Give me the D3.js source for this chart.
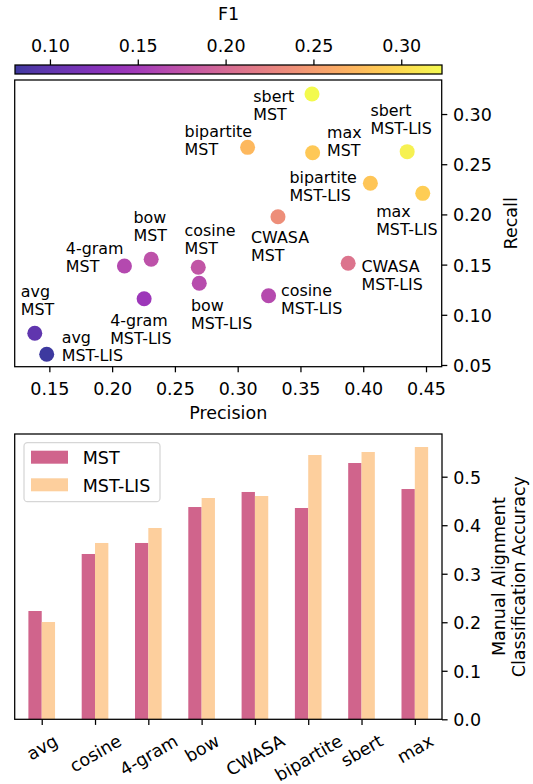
<!DOCTYPE html>
<html>
<head>
<meta charset="utf-8">
<script src="https://cdn.jsdelivr.net/npm/d3@7"></script>
<style>
  html, body { margin: 0; padding: 0; background: #fff; }
  svg { display: block; font-family: "DejaVu Sans", sans-serif; }
</style>
</head>
<body>
<svg id="chart" width="533" height="784"></svg>
<script>
// ---------------- data ----------------
const methods = ["avg", "cosine", "4-gram", "bow", "CWASA", "bipartite", "sbert", "max"];
const variants = ["MST", "MST-LIS"];

const precisionMST = [0.1384, 0.2686, 0.2098, 0.2311, 0.3321, 0.3079, 0.3592, 0.3597];
const recallMST    = [0.0816, 0.1473, 0.1486, 0.1553, 0.1977, 0.2668, 0.3199, 0.2615];
const f1MST        = [0.100, 0.178, 0.165, 0.175, 0.237, 0.274, 0.3232, 0.287];

const precisionLIS = [0.1479, 0.3246, 0.2255, 0.2694, 0.3880, 0.4057, 0.4350, 0.4474];
const recallLIS    = [0.0607, 0.1190, 0.1160, 0.1314, 0.1513, 0.2310, 0.2625, 0.2210];
const f1LIS        = [0.0801, 0.166, 0.145, 0.168, 0.210, 0.285, 0.316, 0.290];

const accuracyMST = [0.2232, 0.3407, 0.3634, 0.4375, 0.4685, 0.4355, 0.5282, 0.4746];
const accuracyLIS = [0.2005, 0.3634, 0.3943, 0.4561, 0.4602, 0.5447, 0.5509, 0.5612];

const precisionTicks = [0.15, 0.20, 0.25, 0.30, 0.35, 0.40, 0.45];
const recallTicks = [0.05, 0.10, 0.15, 0.20, 0.25, 0.30];
const f1Ticks = [0.10, 0.15, 0.20, 0.25, 0.30];
const accuracyTicks = [0.0, 0.1, 0.2, 0.3, 0.4, 0.5];

// label placement (layout, px offsets of first text line from point)
const labelOffsetMST = [[-14, -36.6], [-13.7, -31.6], [-58.6, -11.7], [-17.7, -36], [-27, 26.6], [-63, -10.6], [-58.7, 7.7], [14.4, -14.4]];
const labelOffsetLIS = [[15, -11], [12.4, 0], [-34, 27], [-8.3, 27.4], [13.3, 9], [-81, -0.6], [-36.7, -36], [-46.6, 23.4]];

// ---------------- setup ----------------
const svg = d3.select("#chart");
const FS = 17.5, FSA = 15.9, LW = 1.27, TL = 5.6, PAD = 5.6;
const barColors = ["#d0648c", "#fdcf9d"];

const points = [];
methods.forEach((m, i) => {
  points.push({m, v: "MST", p: precisionMST[i], r: recallMST[i], f: f1MST[i], off: labelOffsetMST[i]});
  points.push({m, v: "MST-LIS", p: precisionLIS[i], r: recallLIS[i], f: f1LIS[i], off: labelOffsetLIS[i]});
});
const f1Min = d3.min(points, d => d.f), f1Max = d3.max(points, d => d.f);
const color = d3.scaleSequential(d3.interpolatePlasma).domain([f1Min, f1Max]);

// ---------------- colorbar ----------------
const cb = {l: 15, r: 442, t: 65, b: 74};
const cbScale = d3.scaleLinear().domain([f1Min, f1Max]).range([cb.l, cb.r]);
const defs = svg.append("defs");
const grad = defs.append("linearGradient").attr("id", "cbgrad").attr("x1", "0%").attr("x2", "100%");
d3.range(0, 1.0001, 0.02).forEach(t => {
  grad.append("stop").attr("offset", (t * 100) + "%").attr("stop-color", d3.interpolatePlasma(t));
});
svg.append("rect").attr("x", cb.l).attr("y", cb.t).attr("width", cb.r - cb.l).attr("height", cb.b - cb.t)
  .attr("fill", "url(#cbgrad)").attr("fill-opacity", 0.8);
svg.append("rect").attr("x", cb.l).attr("y", cb.t).attr("width", cb.r - cb.l).attr("height", cb.b - cb.t)
  .attr("fill", "none").attr("stroke", "#000").attr("stroke-width", LW);
const cbAxis = svg.append("g").attr("transform", `translate(0,${cb.t})`)
  .call(d3.axisTop(cbScale).tickValues(f1Ticks).tickFormat(d3.format(".2f")).tickSize(TL).tickPadding(PAD));
cbAxis.select(".domain").remove();
cbAxis.selectAll("line").attr("stroke", "#000").attr("stroke-width", LW);
cbAxis.selectAll("text").attr("font-size", FS).attr("font-family", "DejaVu Sans").attr("fill", "#000")
  .attr("y", null).attr("dy", null).attr("transform", null)
  .attr("y", 52.3 - cb.t);
svg.append("text").attr("x", (cb.l + cb.r) / 2).attr("y", 20).attr("text-anchor", "middle")
  .attr("font-size", FS).text("F1");

// ---------------- scatter ----------------
const sc = {l: 14.7, r: 441.7, t: 80, b: 366.7};
const x = d3.scaleLinear().domain([0.1224, 0.4625]).range([sc.l, sc.r]);
const y = d3.scaleLinear().domain([0.0483, 0.3339]).range([sc.b, sc.t]);

const gs = svg.append("g");
gs.selectAll("circle").data(points).join("circle")
  .attr("cx", d => x(d.p)).attr("cy", d => y(d.r)).attr("r", 7.5)
  .attr("fill", d => color(d.f)).attr("fill-opacity", 0.8);

const lbl = gs.selectAll("text.lbl").data(points).join("text").attr("class", "lbl")
  .attr("font-size", FSA)
  .attr("x", d => x(d.p) + d.off[0]).attr("y", d => y(d.r) + d.off[1]);
lbl.append("tspan").text(d => d.m);
lbl.append("tspan").attr("x", d => x(d.p) + d.off[0]).attr("dy", 18).text(d => d.v);

// frame
svg.append("rect").attr("x", sc.l).attr("y", sc.t).attr("width", sc.r - sc.l).attr("height", sc.b - sc.t)
  .attr("fill", "none").attr("stroke", "#000").attr("stroke-width", LW);

const sx = svg.append("g").attr("transform", `translate(0,${sc.b})`)
  .call(d3.axisBottom(x).tickValues(precisionTicks).tickFormat(d3.format(".2f")).tickSize(TL).tickPadding(PAD));
sx.select(".domain").remove();
sx.selectAll("line").attr("stroke", "#000").attr("stroke-width", LW);
sx.selectAll("text").attr("font-size", FS).attr("font-family", "DejaVu Sans").attr("fill", "#000")
  .attr("dy", null).attr("y", 395 - sc.b);

const sy = svg.append("g").attr("transform", `translate(${sc.r},0)`)
  .call(d3.axisRight(y).tickValues(recallTicks).tickFormat(d3.format(".2f")).tickSize(TL).tickPadding(PAD));
sy.select(".domain").remove();
sy.selectAll("line").attr("stroke", "#000").attr("stroke-width", LW);
sy.selectAll("text").attr("font-size", FS).attr("font-family", "DejaVu Sans").attr("fill", "#000")
  .attr("dy", "0.37em");

svg.append("text").attr("x", (sc.l + sc.r) / 2).attr("y", 419.3).attr("text-anchor", "middle")
  .attr("font-size", FS).text("Precision");
svg.append("text").attr("transform", `translate(516.5,${(sc.t + sc.b) / 2}) rotate(-90)`)
  .attr("text-anchor", "middle").attr("font-size", FS).text("Recall");

// ---------------- bar chart ----------------
const bc = {l: 14.7, r: 442, t: 434, b: 719.3};
const bx = d3.scaleLinear().domain([-0.507, 7.51]).range([bc.l, bc.r]);
const by = d3.scaleLinear().domain([0, 0.588]).range([bc.b, bc.t]);
const bw = 0.25;

const bars = [];
methods.forEach((m, i) => {
  bars.push({i, k: 0, v: accuracyMST[i]});
  bars.push({i, k: 1, v: accuracyLIS[i]});
});
svg.append("g").selectAll("rect").data(bars).join("rect")
  .attr("x", d => bx(d.i + (d.k === 0 ? -bw : 0)))
  .attr("width", bx(bw) - bx(0))
  .attr("y", d => by(d.v)).attr("height", d => by(0) - by(d.v))
  .attr("fill", d => barColors[d.k]);

svg.append("rect").attr("x", bc.l).attr("y", bc.t).attr("width", bc.r - bc.l).attr("height", bc.b - bc.t)
  .attr("fill", "none").attr("stroke", "#000").attr("stroke-width", LW);

const bxa = svg.append("g").attr("transform", `translate(0,${bc.b})`)
  .call(d3.axisBottom(bx).tickValues(d3.range(methods.length)).tickFormat(i => methods[i]).tickSize(TL).tickPadding(PAD));
bxa.select(".domain").remove();
bxa.selectAll("line").attr("stroke", "#000").attr("stroke-width", LW);
bxa.selectAll("text").attr("font-size", FS).attr("font-family", "DejaVu Sans").attr("fill", "#000")
  .attr("dy", null)
  .each(function() {
    const t = d3.select(this);
    const w = this.getComputedTextLength();
    const h = FS * 1.17;
    const H = w * Math.sin(Math.PI / 6) + h * Math.cos(Math.PI / 6);
    const cy = TL + PAD + H / 2;
    t.attr("x", 0).attr("y", cy).attr("dy", "0.346em").attr("text-anchor", "middle")
      .attr("transform", `rotate(-30,0,${cy})`);
  });

const bya = svg.append("g").attr("transform", `translate(${bc.r},0)`)
  .call(d3.axisRight(by).tickValues(accuracyTicks).tickFormat(d3.format(".1f")).tickSize(TL).tickPadding(PAD));
bya.select(".domain").remove();
bya.selectAll("line").attr("stroke", "#000").attr("stroke-width", LW);
bya.selectAll("text").attr("font-size", FS).attr("font-family", "DejaVu Sans").attr("fill", "#000")
  .attr("dy", "0.37em");

const ylab = svg.append("text").attr("transform", `translate(504.7,${(bc.t + bc.b) / 2}) rotate(-90)`)
  .attr("text-anchor", "middle").attr("font-size", FS);
ylab.append("tspan").attr("x", 0).attr("y", 0).text("Manual Alignment");
ylab.append("tspan").attr("x", 0).attr("y", 20).text("Classification Accuracy");

// legend
const lg = svg.append("g");
lg.append("rect").attr("x", 24).attr("y", 442.7).attr("width", 136).attr("height", 59)
  .attr("rx", 3.5).attr("fill", "#fff").attr("fill-opacity", 0.8)
  .attr("stroke", "#d6d6d6").attr("stroke-width", LW);
variants.forEach((v, k) => {
  const yy = [450.7, 478.3][k];
  lg.append("rect").attr("x", 31).attr("y", yy).attr("width", 37).attr("height", 13)
    .attr("fill", barColors[k]);
  lg.append("text").attr("x", 82.7).attr("y", yy + 13.3).attr("font-size", FS).text(v);
});
</script>
</body>
</html>
